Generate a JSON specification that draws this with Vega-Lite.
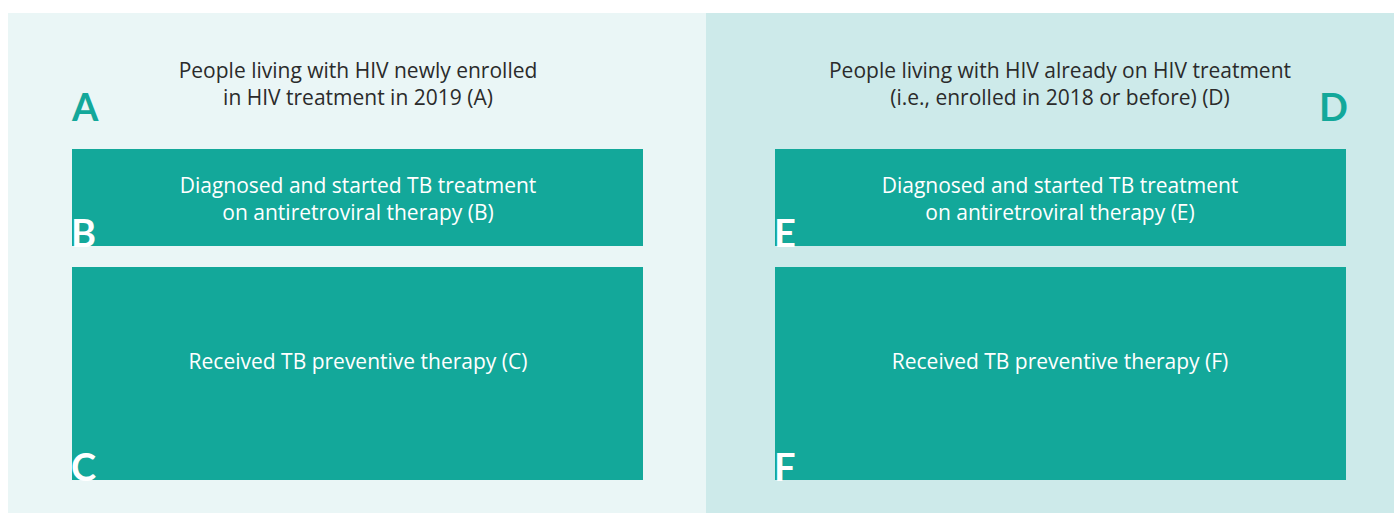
{
  "$schema": "https://vega.github.io/schema/vega-lite/v6.json",
  "width": 1394,
  "height": 513,
  "autosize": {"type": "none"},
  "padding": 0,
  "background": "white",
  "config": {"view": {"stroke": null}},
  "datasets": {
    "panels": [
      {"id": "left", "kind": "panelA", "x1": 8, "x2": 706, "y1": 13, "y2": 513},
      {"id": "right", "kind": "panelD", "x1": 706, "x2": 1394, "y1": 13, "y2": 513},
      {"id": "B", "kind": "box", "x1": 72, "x2": 643, "y1": 149, "y2": 246},
      {"id": "C", "kind": "box", "x1": 72, "x2": 643, "y1": 267, "y2": 480},
      {"id": "E", "kind": "box", "x1": 775, "x2": 1346, "y1": 149, "y2": 246},
      {"id": "F", "kind": "box", "x1": 775, "x2": 1346, "y1": 267, "y2": 480}
    ],
    "titles": [
      {"x": 358, "y": 72, "label": ["People living with HIV newly enrolled", "in HIV treatment in 2019 (A)"]},
      {"x": 1060, "y": 72, "label": ["People living with HIV already on HIV treatment", "(i.e., enrolled in 2018 or before) (D)"]}
    ],
    "boxtexts": [
      {"x": 358, "y": 187, "label": ["Diagnosed and started TB treatment", "on antiretroviral therapy (B)"]},
      {"x": 1060, "y": 187, "label": ["Diagnosed and started TB treatment", "on antiretroviral therapy (E)"]},
      {"x": 358, "y": 363, "label": ["Received TB preventive therapy (C)"]},
      {"x": 1060, "y": 363, "label": ["Received TB preventive therapy (F)"]}
    ],
    "leftLetters": [
      {"x": 72, "y": 121, "label": "A"}
    ],
    "rightLetters": [
      {"x": 1348, "y": 121, "label": "D"}
    ],
    "whiteLetters": [
      {"x": 71, "y": 247, "label": "B"},
      {"x": 71, "y": 481, "label": "C"},
      {"x": 774, "y": 247, "label": "E"},
      {"x": 774, "y": 481, "label": "F"}
    ]
  },
  "layer": [
    {
      "data": {"name": "panels"},
      "mark": {"type": "rect"},
      "encoding": {
        "x": {"field": "x1", "type": "quantitative", "scale": {"domain": [0, 1394], "range": [0, 1394], "nice": false, "zero": false}, "axis": null},
        "x2": {"field": "x2"},
        "y": {"field": "y1", "type": "quantitative", "scale": {"domain": [0, 513], "range": [0, 513], "nice": false, "zero": false}, "axis": null},
        "y2": {"field": "y2"},
        "color": {"field": "kind", "type": "nominal", "scale": {"domain": ["panelA", "panelD", "box"], "range": ["#eaf6f6", "#cdeaea", "#13a89a"]}, "legend": null}
      }
    },
    {
      "data": {"name": "titles"},
      "mark": {"type": "text", "font": "Open Sans", "fontSize": 21, "color": "#2b2b2b", "align": "center", "baseline": "middle", "lineHeight": 27},
      "encoding": {
        "x": {"field": "x", "type": "quantitative", "scale": {"domain": [0, 1394], "range": [0, 1394], "nice": false, "zero": false}, "axis": null},
        "y": {"field": "y", "type": "quantitative", "scale": {"domain": [0, 513], "range": [0, 513], "nice": false, "zero": false}, "axis": null},
        "text": {"field": "label"}
      }
    },
    {
      "data": {"name": "boxtexts"},
      "mark": {"type": "text", "font": "Open Sans", "fontSize": 21, "color": "white", "align": "center", "baseline": "middle", "lineHeight": 27},
      "encoding": {
        "x": {"field": "x", "type": "quantitative", "scale": {"domain": [0, 1394], "range": [0, 1394], "nice": false, "zero": false}, "axis": null},
        "y": {"field": "y", "type": "quantitative", "scale": {"domain": [0, 513], "range": [0, 513], "nice": false, "zero": false}, "axis": null},
        "text": {"field": "label"}
      }
    },
    {
      "data": {"name": "leftLetters"},
      "mark": {"type": "text", "font": "Lato", "fontSize": 38, "fontWeight": "bold", "color": "#13a89a", "align": "left", "baseline": "alphabetic"},
      "encoding": {
        "x": {"field": "x", "type": "quantitative", "scale": {"domain": [0, 1394], "range": [0, 1394], "nice": false, "zero": false}, "axis": null},
        "y": {"field": "y", "type": "quantitative", "scale": {"domain": [0, 513], "range": [0, 513], "nice": false, "zero": false}, "axis": null},
        "text": {"field": "label"}
      }
    },
    {
      "data": {"name": "rightLetters"},
      "mark": {"type": "text", "font": "Lato", "fontSize": 38, "fontWeight": "bold", "color": "#13a89a", "align": "right", "baseline": "alphabetic"},
      "encoding": {
        "x": {"field": "x", "type": "quantitative", "scale": {"domain": [0, 1394], "range": [0, 1394], "nice": false, "zero": false}, "axis": null},
        "y": {"field": "y", "type": "quantitative", "scale": {"domain": [0, 513], "range": [0, 513], "nice": false, "zero": false}, "axis": null},
        "text": {"field": "label"}
      }
    },
    {
      "data": {"name": "whiteLetters"},
      "mark": {"type": "text", "font": "Lato", "fontSize": 38, "fontWeight": "bold", "color": "white", "align": "left", "baseline": "alphabetic"},
      "encoding": {
        "x": {"field": "x", "type": "quantitative", "scale": {"domain": [0, 1394], "range": [0, 1394], "nice": false, "zero": false}, "axis": null},
        "y": {"field": "y", "type": "quantitative", "scale": {"domain": [0, 513], "range": [0, 513], "nice": false, "zero": false}, "axis": null},
        "text": {"field": "label"}
      }
    }
  ]
}
